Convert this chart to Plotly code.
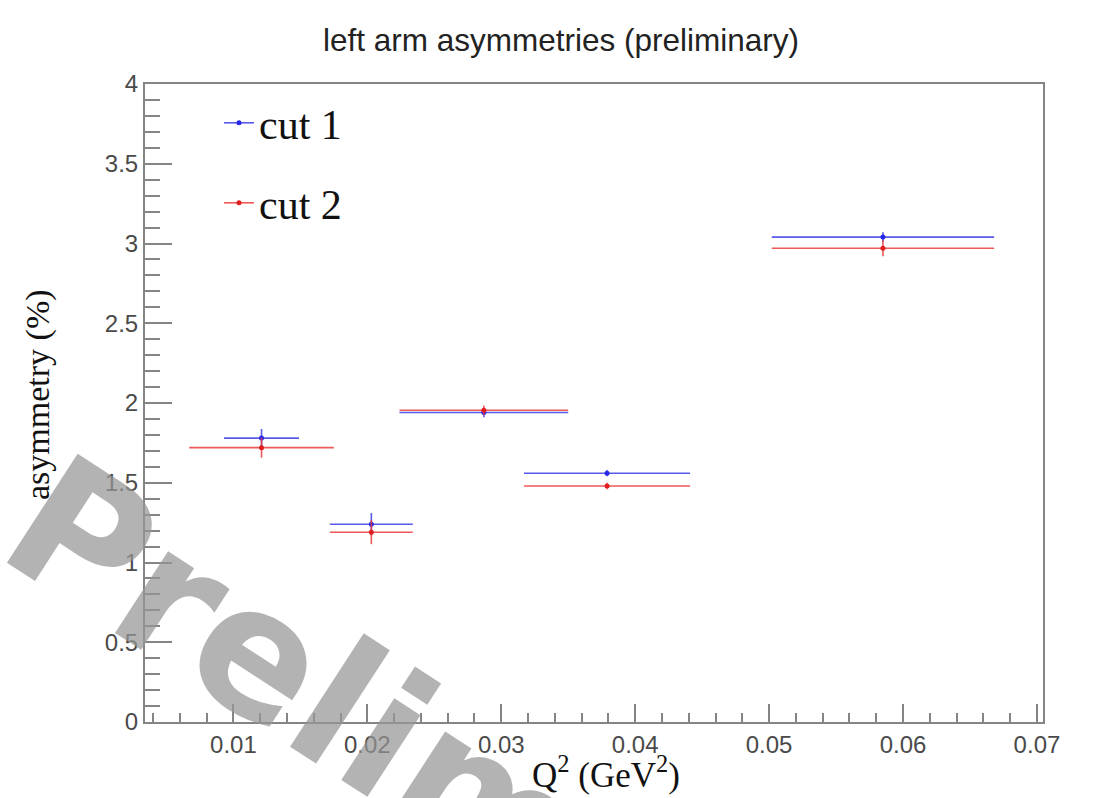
import plotly.graph_objects as go

# ---- data ----
q2_cut1 = [0.0121, 0.0203, 0.0287, 0.0379, 0.0585]
q2_err_cut1 = [0.0028, 0.0031, 0.0063, 0.0062, 0.0083]
asym_cut1 = [1.78, 1.24, 1.94, 1.56, 3.04]
asym_err_cut1 = [0.057, 0.07, 0.03, 0.02, 0.03]

q2_cut2 = [0.0121, 0.0203, 0.0287, 0.0379, 0.0585]
q2_err_cut2 = [0.0054, 0.0031, 0.0063, 0.0062, 0.0083]
asym_cut2 = [1.72, 1.19, 1.955, 1.48, 2.97]
asym_err_cut2 = [0.063, 0.075, 0.03, 0.02, 0.05]

x_tick_vals = [0.01, 0.02, 0.03, 0.04, 0.05, 0.06, 0.07]
x_tick_text = ["0.01", "0.02", "0.03", "0.04", "0.05", "0.06", "0.07"]
y_tick_vals = [0, 0.5, 1, 1.5, 2, 2.5, 3, 3.5, 4]
y_tick_text = ["0", "0.5", "1", "1.5", "2", "2.5", "3", "3.5", "4"]

BLUE = "rgb(40,40,235)"
BLUE_LINE = "rgba(60,60,230,0.85)"
RED = "rgb(225,30,30)"
RED_LINE = "rgba(235,60,60,0.85)"

fig = go.Figure()

def add_series(x, ex, y, ey, mcol, lcol, name, legend):
    fig.add_trace(go.Scatter(
        x=x, y=y, mode="markers", name=name, showlegend=False,
        marker=dict(size=5, color=mcol),
        error_x=dict(type="data", array=ex, color=lcol, thickness=1.6, width=0),
        error_y=dict(type="data", array=ey, color=lcol, thickness=1.6, width=0),
    ))
    # legend sample (line + marker, like ROOT "lep")
    fig.add_trace(go.Scatter(
        x=[None], y=[None], mode="lines+markers", name=name, legend=legend,
        line=dict(color=lcol, width=1.6), marker=dict(size=5, color=mcol),
    ))

add_series(q2_cut1, q2_err_cut1, asym_cut1, asym_err_cut1, BLUE, BLUE_LINE, "cut 1", "legend")
add_series(q2_cut2, q2_err_cut2, asym_cut2, asym_err_cut2, RED, RED_LINE, "cut 2", "legend2")

W, H = 1093, 798
L, R, T, B = 145, 50, 84, 76
pw, ph = W - L - R, H - T - B

def px_x(p):
    return (p - L) / pw

def px_y(p):
    return (H - B - p) / ph

axis_common = dict(
    showgrid=False, zeroline=False, showline=True, mirror=True,
    linecolor="#858585", linewidth=2, ticks="inside", tickcolor="#858585",
    tickwidth=1.5,
    tickfont=dict(family="Liberation Sans, Arial, sans-serif", size=24, color="#4a4a4a"),
)

legend_font = dict(family="Liberation Serif, Times New Roman, serif", size=42, color="#111")

fig.update_layout(
    width=W, height=H,
    margin=dict(l=L, r=R, t=T, b=B),
    paper_bgcolor="white", plot_bgcolor="white",
    title=dict(
        text="left arm asymmetries (preliminary)",
        x=561 / W, xanchor="center", y=1 - 40 / H, yanchor="middle",
        font=dict(family="Liberation Sans, Arial, sans-serif", size=31.5, color="#222"),
    ),
    xaxis=dict(
        range=[0.0034, 0.07045], tickvals=x_tick_vals, ticktext=x_tick_text,
        ticklen=18,
        minor=dict(dtick=0.002, tick0=0, ticks="inside", ticklen=9,
                   tickcolor="#858585", tickwidth=1.5),
        **axis_common,
    ),
    yaxis=dict(
        range=[0, 4], tickvals=y_tick_vals, ticktext=y_tick_text,
        ticklen=27,
        minor=dict(dtick=0.1, tick0=0, ticks="inside", ticklen=15,
                   tickcolor="#858585", tickwidth=1.5),
        **axis_common,
    ),
    legend=dict(
        x=px_x(219), y=px_y(123), xanchor="left", yanchor="middle",
        bgcolor="rgba(0,0,0,0)", borderwidth=0, font=legend_font,
    ),
    legend2=dict(
        x=px_x(219), y=px_y(203), xanchor="left", yanchor="middle",
        bgcolor="rgba(0,0,0,0)", borderwidth=0, font=legend_font,
    ),
)

# axis titles (ROOT-like placement)
fig.add_annotation(
    text="Q<sup>2</sup> (GeV<sup>2</sup>)", xref="paper", yref="paper",
    x=px_x(606), y=px_y(772), xanchor="center", yanchor="middle", showarrow=False,
    font=dict(family="Liberation Serif, Times New Roman, serif", size=35, color="#111"),
)
fig.add_annotation(
    text="asymmetry (%)", xref="paper", yref="paper",
    x=px_x(38), y=px_y(395), xanchor="center", yanchor="middle", showarrow=False,
    textangle=-90,
    font=dict(family="Liberation Serif, Times New Roman, serif", size=34, color="#111"),
)

# grey "Preliminary" watermark stamp
fig.add_annotation(
    text="<b>Preliminary</b>", xref="paper", yref="paper",
    x=px_x(512), y=px_y(818), xanchor="center", yanchor="middle", showarrow=False,
    textangle=33,
    font=dict(family="DejaVu Sans, sans-serif", size=178,
              color="rgba(150,150,150,0.72)"),
)

fig.write_html("out.html")
